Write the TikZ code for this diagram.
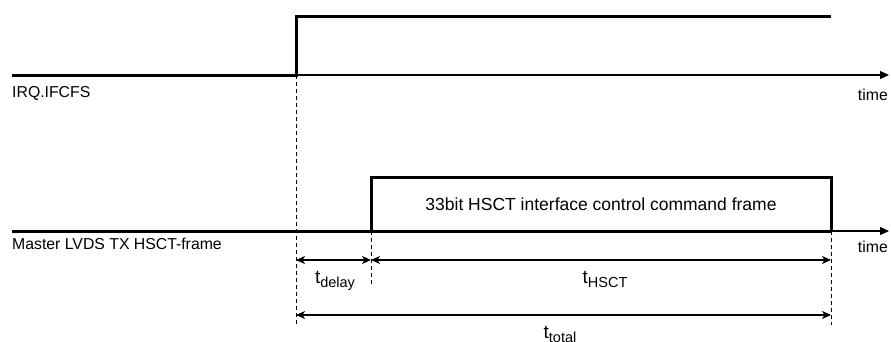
\documentclass[tikz,border=0pt]{standalone}
\usepackage{fontspec}
\setmainfont{Liberation Sans}
\usetikzlibrary{arrows.meta}
\newcommand{\tsub}[1]{{\fontsize{19}{21}\selectfont t}\raisebox{-4pt}{\fontsize{14.5}{16}\selectfont #1}}
\begin{document}
\begin{tikzpicture}[x=1pt,y=-1pt,
  lbl/.style={font=\fontsize{15.8}{18}\selectfont, inner sep=0pt},
  sig/.style={line width=3pt, line join=miter, line cap=butt},
  axis/.style={line width=1.2pt, -{Triangle[length=9pt,width=8pt]}},
  guide/.style={line width=0.8pt, dash pattern=on 4pt off 3pt},
  dim/.style={line width=1.3pt, {Stealth[length=9pt,width=8pt,inset=2.5pt]}-{Stealth[length=9pt,width=8pt,inset=2.5pt]}}]
\useasboundingbox (0,0) rectangle (891,341);
% coordinates
\coordinate (s0) at (12,75);
\coordinate (e) at (296,75);
\coordinate (eh) at (296,16);
\coordinate (h1) at (831,16);
\coordinate (ax1) at (889,75);
\coordinate (b0) at (12,231);
\coordinate (r) at (371,231);
\coordinate (rt) at (371,177);
\coordinate (ft) at (831,177);
\coordinate (fb) at (831,231);
\coordinate (ax2) at (889,231);
\coordinate (g1) at (296,325);
\coordinate (g2) at (371,287);
\coordinate (g3) at (831,325);
\coordinate (d1) at (296,260);
\coordinate (d2) at (371,260);
\coordinate (d3) at (831,260);
\coordinate (t1) at (296,315);
\coordinate (t2) at (831,315);
% guides
\draw[guide] (e) -- (g1);
\draw[guide] (r) -- (g2);
\draw[guide] (fb) -- (g3);
% axes
\draw[axis] (s0) -- (ax1);
\draw[axis] (b0) -- (ax2);
% signals
\draw[sig] (s0) -- (e) -- (eh) -- (h1);
\draw[sig] (b0) -- (fb);
\draw[sig] (r) -- (rt) -- (ft) -- (fb);
% labels
\node[lbl, anchor=base west] (irq) at (12,97) {IRQ.IFCFS};
\node[lbl, anchor=base east] (time1) at (888,100) {time};
\node[lbl, anchor=base west] (master) at (12,249) {Master LVDS TX HSCT-frame};
\node[lbl, anchor=base east] (time2) at (888,252) {time};
\node[font=\fontsize{17.5}{20}\selectfont, inner sep=0pt] (frame) at (601,204) {33bit HSCT interface control command frame};
% dimensions
\draw[dim] (d1) -- (d2);
\draw[dim] (d2) -- (d3);
\draw[dim] (t1) -- (t2);
\node[inner sep=0pt, anchor=base] (tdelay) at (335,283) {\tsub{delay}};
\node[inner sep=0pt, anchor=base] (thsct) at (605,283) {\tsub{HSCT}};
\node[inner sep=0pt, anchor=base] (ttotal) at (560,338) {\tsub{total}};
\end{tikzpicture}
\end{document}
